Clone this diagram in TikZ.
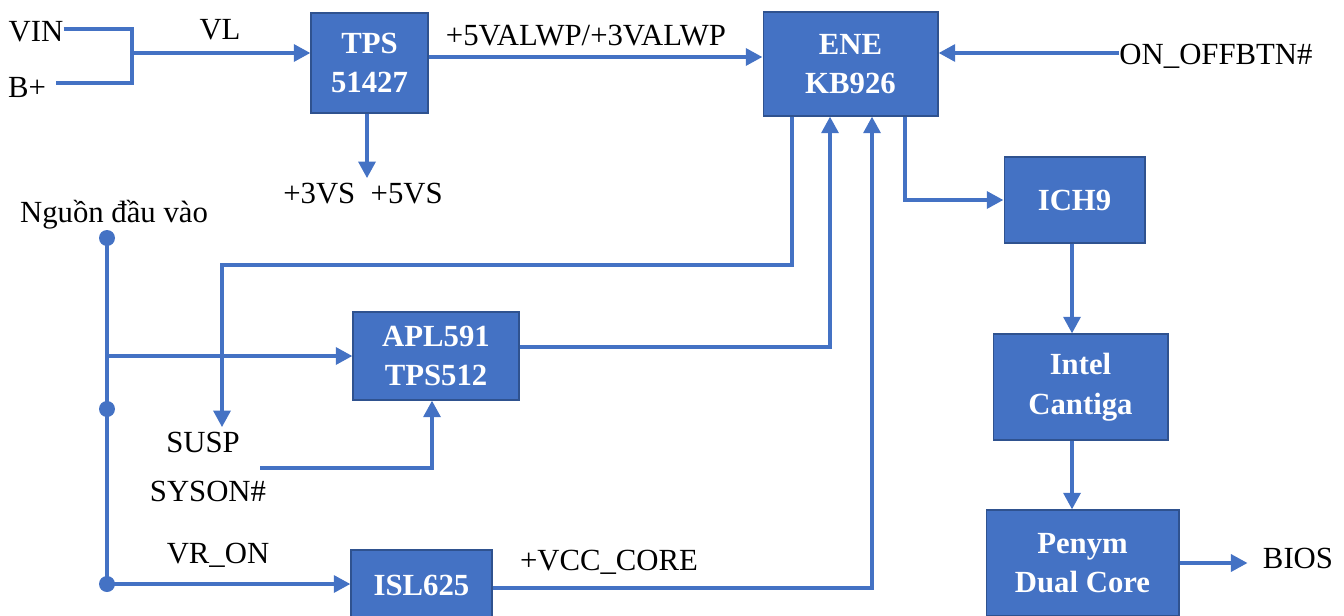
\documentclass[tikz,border=0pt]{standalone}
\usepackage{fontspec}
\setmainfont{Liberation Serif}
\usetikzlibrary{arrows.meta}
\definecolor{boxblue}{HTML}{4472C4}
\definecolor{boxedge}{HTML}{2F528F}
\tikzset{
  blk/.style={draw=boxedge, line width=0.6pt, fill=boxblue, text=white,
    font=\bfseries\fontsize{17.5}{22.5}\selectfont, align=center, inner sep=0pt},
  lbl/.style={font=\fontsize{17.5}{21}\selectfont, anchor=base, inner xsep=0pt, inner ysep=2.3pt},
  wire/.style={boxblue, line width=2.6pt},
  arr/.style={wire, -{Triangle[length=9.5pt,width=9.5pt]}}
}
\begin{document}
\begin{tikzpicture}[x=0.02cm,y=-0.02cm]
\useasboundingbox (0,0) rectangle (1344,615);

% blocks
\node[blk, minimum width=2.34cm, minimum height=2cm] (tps) at (369.5,63) {TPS\\51427};
\node[blk, minimum width=3.5cm, minimum height=2.08cm] (ene) at (850.5,64) {ENE\\KB926};
\node[blk, minimum width=2.82cm, minimum height=1.72cm] (ich) at (1074.5,200) {ICH9};
\node[blk, minimum width=3.5cm, minimum height=2.12cm] (intel) at (1080.5,387) {Intel\\Cantiga};
\node[blk, minimum width=3.86cm, minimum height=2.12cm] (penym) at (1082.5,563) {Penym\\Dual Core};
\node[blk, minimum width=3.32cm, minimum height=1.76cm] (apl) at (436,356) {APL591\\TPS512};
\node[blk, minimum width=2.82cm, minimum height=1.4cm] (isl) at (421.5,585) {ISL625};

% labels
\node[lbl] (vin) at (36,42) {VIN};
\node[lbl, inner xsep=0.2cm] (bp) at (27,97) {B+};
\node[lbl] (vl) at (220,40) {VL};
\node[lbl] (vs) at (363,203) {+3VS~ +5VS};
\node[lbl] (alw) at (586,46) {+5VALWP/+3VALWP};
\node[lbl] (onoff) at (1216,65) {ON\_OFFBTN\#};
\node[lbl] (src) at (114,222) {Nguồn đầu vào};
\node[lbl] (susp) at (203,452) {SUSP};
\node[lbl] (syson) at (208,501) {SYSON\#};
\node[lbl] (vron) at (218,563) {VR\_ON};
\node[lbl] (vcc) at (609,570) {+VCC\_CORE};
\node[lbl, inner xsep=0.3cm] (bios) at (1298,568) {BIOS};

% upper chain
\coordinate (jn) at (132,53);
\draw[wire] (vin.east |- 0,29) -| (jn) |- (bp.east |- 0,83);
\draw[arr] (jn) -- (jn -| tps.west);
\draw[arr] (tps.south -| 367,0) -- (vs.north -| 367,0);
\draw[arr] (tps.east |- 0,57) -- (ene.west |- 0,57);
\draw[arr] (onoff.west |- 0,53) -- (ene.east |- 0,53);
\draw[arr] (ene.south -| 905,0) |- (ich.west);
\draw[arr] (ich.south -| 1072,0) -- (intel.north -| 1072,0);
\draw[arr] (intel.south -| 1072,0) -- (penym.north -| 1072,0);
\draw[arr] (penym.east |- 0,563) -- (bios.west |- 0,563);

% input rail
\coordinate (d1) at (107,238);
\coordinate (d2) at (107,409);
\coordinate (d3) at (107,584);
\draw[wire] (d1) -- (d3);
\foreach \d in {d1,d2,d3}
  \fill[boxblue] (\d) circle [radius=0.16cm];
\draw[arr] (d1 |- apl.west) -- (apl.west);
\draw[arr] (d3) -- (d3 -| isl.west);

% feedback to ENE
\coordinate (sk) at (222,265);
\coordinate (sy) at (260,468);
\draw[arr] (ene.south -| 792,0) |- (sk) -- (susp.north -| sk);
\draw[arr] (sy) -| (apl.south -| 432,0);
\draw[arr] (apl.east |- 0,347) -| (ene.south -| 830,0);
\draw[arr] (isl.east |- 0,588) -| (ene.south -| 872,0);
\end{tikzpicture}
\end{document}
